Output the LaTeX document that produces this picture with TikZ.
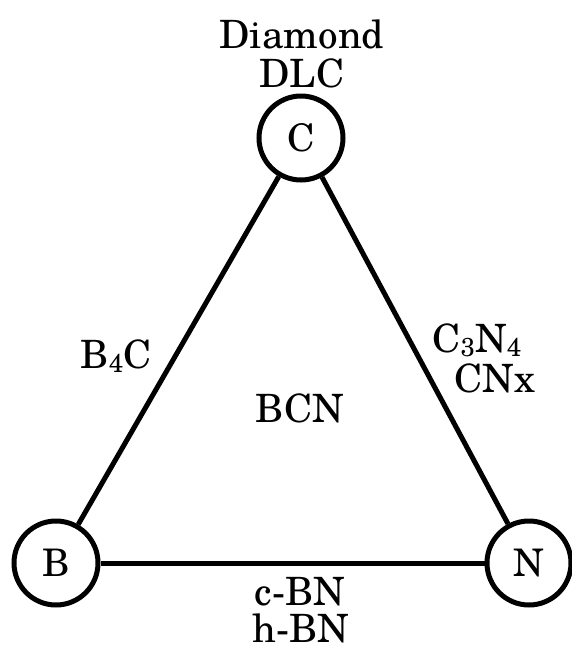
\documentclass[tikz,border=0pt]{standalone}
\usepackage{fontspec}
\setmainfont{texgyreschola-regular.otf}
\newcommand{\sbs}[1]{\raisebox{-0.12em}{\fontsize{26}{26}\selectfont #1}}
\begin{document}
\begin{tikzpicture}[x=1pt,y=-1pt,
  elem/.style={draw,circle,line width=5pt,minimum size=84pt,inner sep=0pt,font=\fontsize{38}{38}\selectfont},
  lbl/.style={anchor=base,inner sep=0pt,font=\fontsize{39}{39}\selectfont},
  bond/.style={line width=5pt}]
\useasboundingbox (0,0) rectangle (572,646);
\node[elem] (C) at (301,138) {C};
\node[elem] (B) at (56,563) {B};
\node[elem] (N) at (529,563) {N};
\draw[bond] (C) -- (B);
\draw[bond] (C) -- (N);
\draw[bond] (B) -- (N);
\node[lbl] (diamond) at (302,48) {Diamond};
\node[lbl] (dlc) at (302,87) {DLC};
\node[lbl] (b4c) at (116,368) {B\sbs{4}C};
\node[lbl] (bcn) at (300,422) {BCN};
\node[lbl] (c3n4) at (477,352) {C\sbs{3}N\sbs{4}};
\node[lbl] (cnx) at (495,392) {CNx};
\node[lbl] (cbn) at (300,605) {c-BN};
\node[lbl] (hbn) at (301,642) {h-BN};
\end{tikzpicture}
\end{document}
